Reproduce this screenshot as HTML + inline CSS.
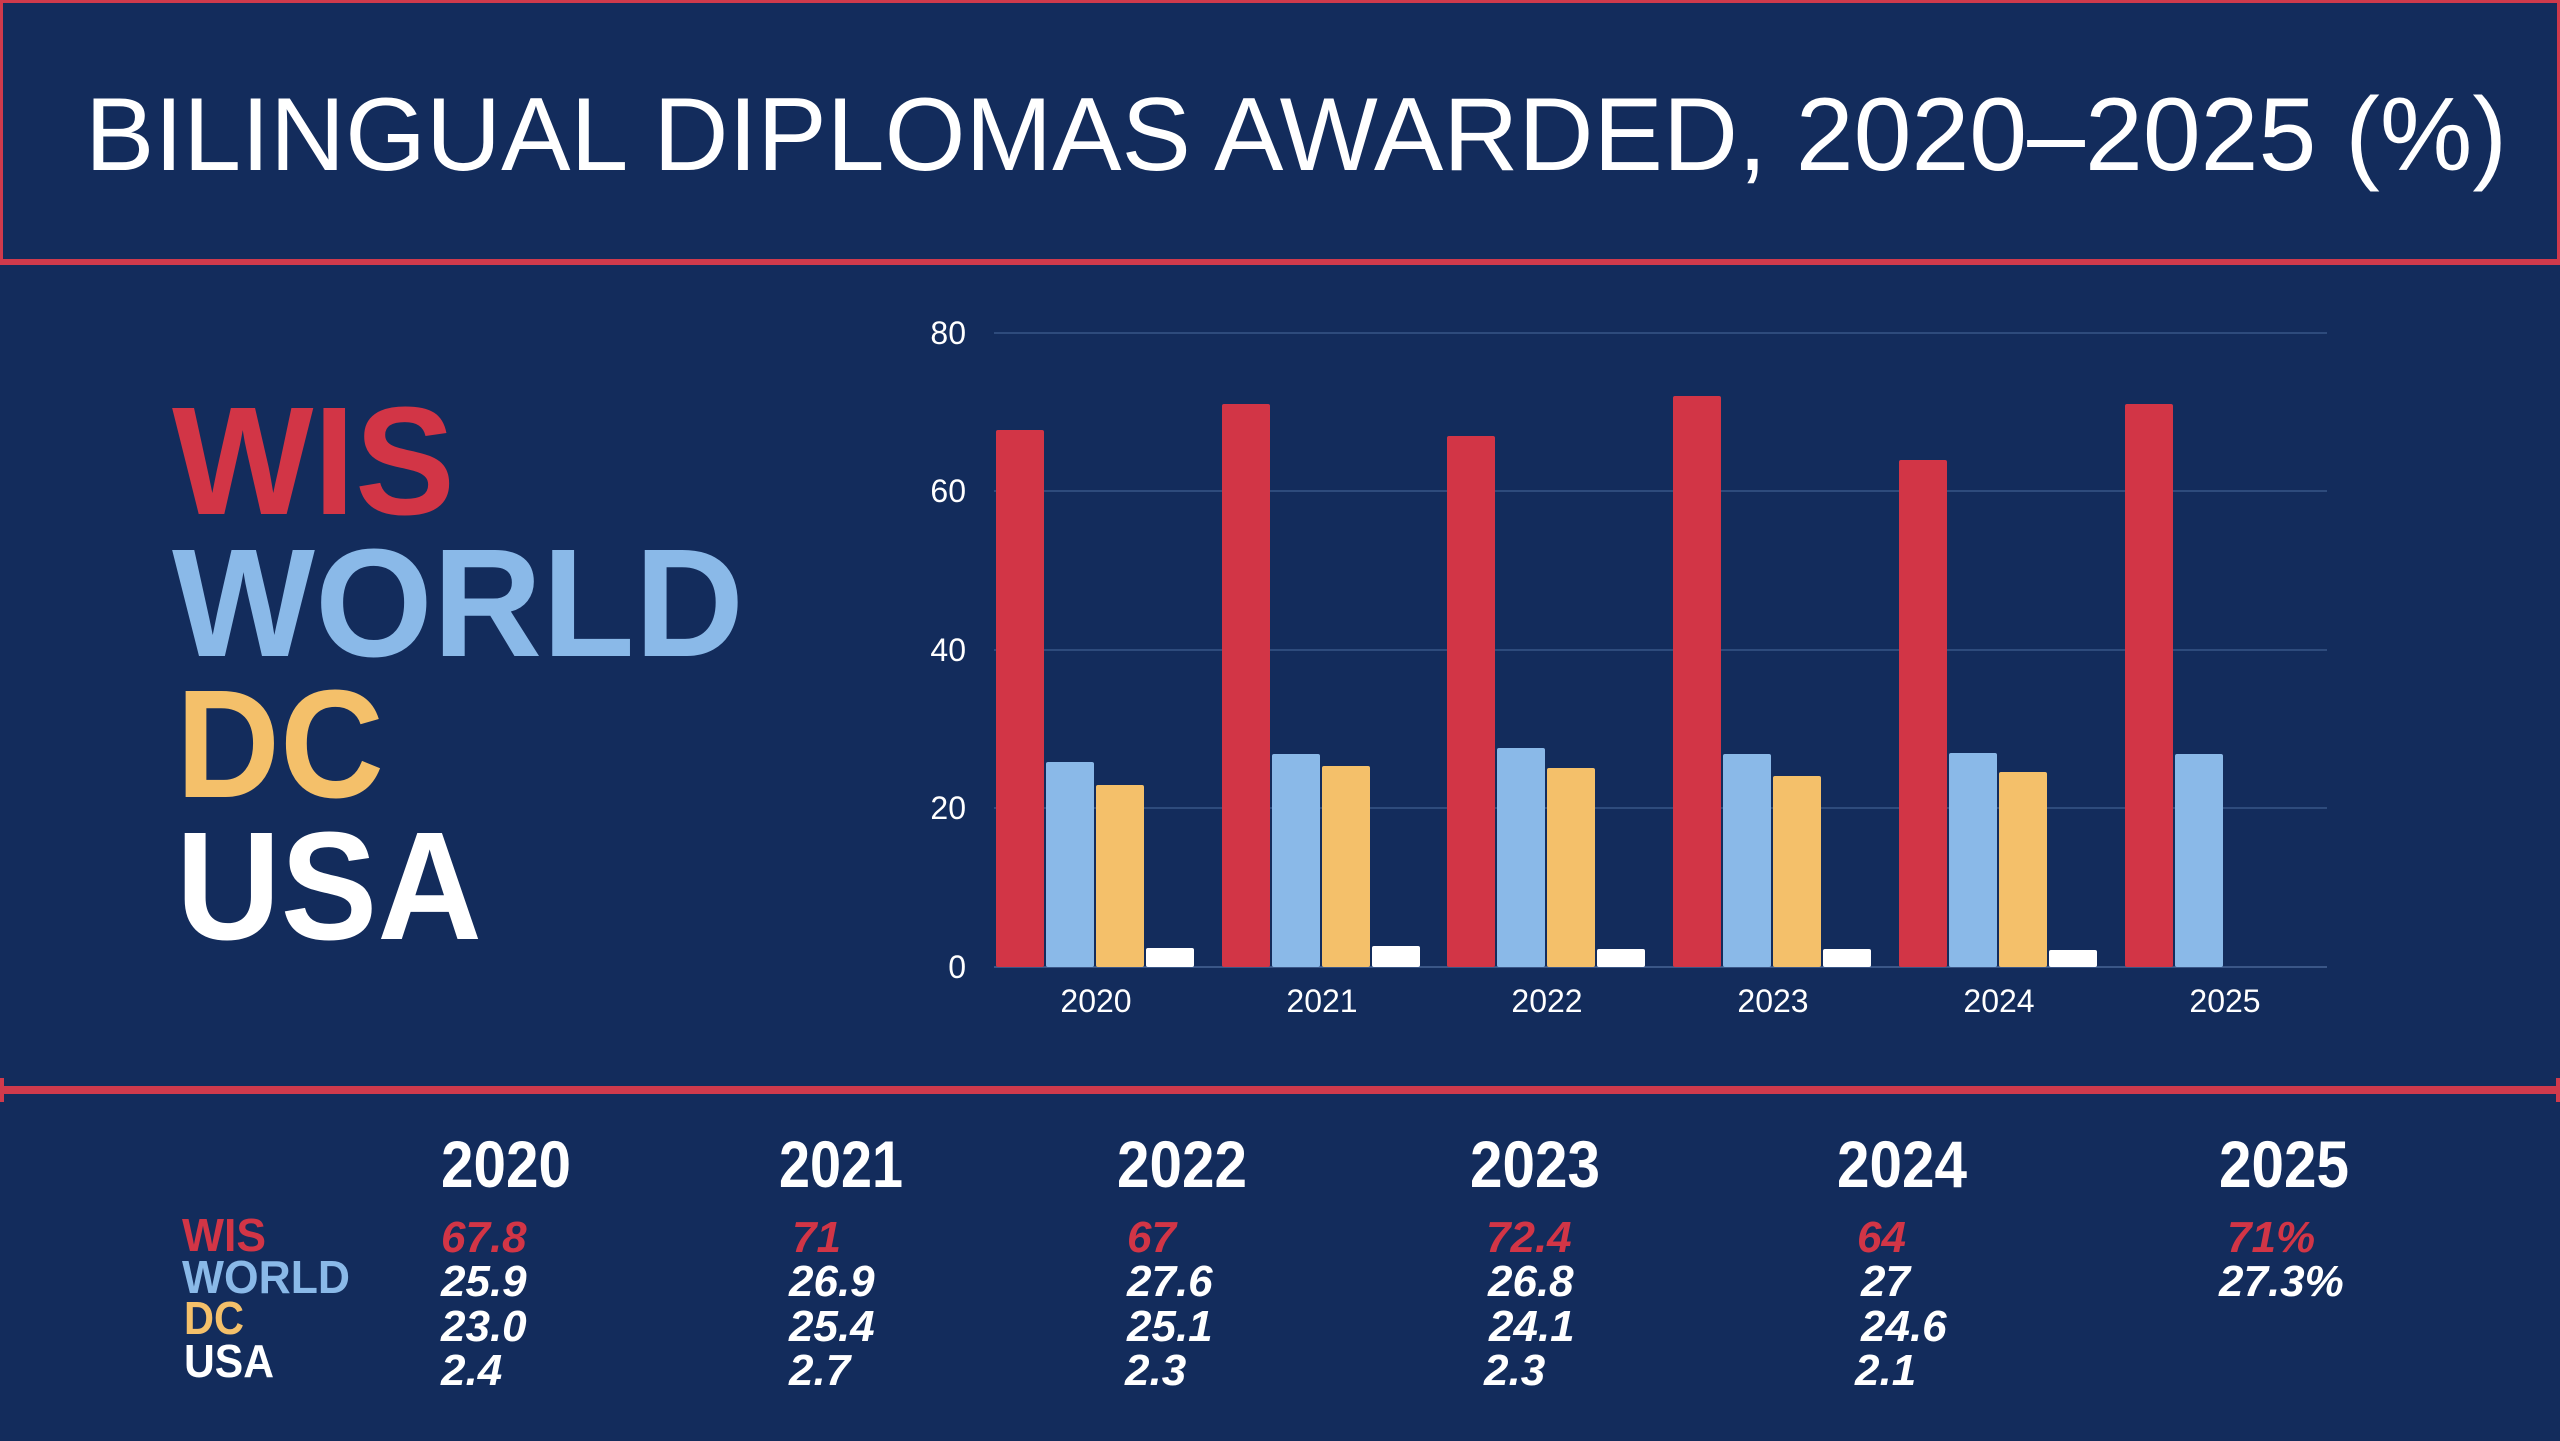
<!DOCTYPE html>
<html><head><meta charset="utf-8"><style>
html,body{margin:0;padding:0;background:#132c5c;}
svg{display:block;}
text{font-family:"Liberation Sans",sans-serif;}
</style></head><body>
<svg width="2560" height="1441" viewBox="0 0 2560 1441" xmlns="http://www.w3.org/2000/svg">
<rect width="2560" height="1441" fill="#132c5c"/>
<!-- title box -->
<rect x="1.5" y="1.5" width="2557" height="262" fill="none" stroke="#cf3a4c" stroke-width="3"/>
<rect x="0" y="259" width="2560" height="6" fill="#cf3a4c"/>
<text x="85" y="170" font-size="104" fill="#fff" textLength="2422" lengthAdjust="spacingAndGlyphs">BILINGUAL DIPLOMAS AWARDED, 2020–2025 (%)</text>

<!-- big legend -->
<g font-weight="bold" font-size="154">
<text x="172" y="514" fill="#d23546" textLength="283" lengthAdjust="spacingAndGlyphs">WIS</text>
<text x="172" y="656" fill="#8ab9e8" textLength="572" lengthAdjust="spacingAndGlyphs">WORLD</text>
<text x="176" y="797" fill="#f4c06a" textLength="208" lengthAdjust="spacingAndGlyphs">DC</text>
<text x="176" y="939" fill="#ffffff" textLength="306" lengthAdjust="spacingAndGlyphs">USA</text>
</g>

<!-- grid -->
<g stroke="#2e4b7c" stroke-width="2">
<line x1="994" y1="333" x2="2327" y2="333"/>
<line x1="994" y1="491" x2="2327" y2="491"/>
<line x1="994" y1="650" x2="2327" y2="650"/>
<line x1="994" y1="808" x2="2327" y2="808"/>
</g>
<line x1="994" y1="967" x2="2327" y2="967" stroke="#3a5687" stroke-width="2"/>
<g fill="#fff" font-size="32" text-anchor="end">
<text x="966" y="344">80</text>
<text x="966" y="502">60</text>
<text x="966" y="661">40</text>
<text x="966" y="819">20</text>
<text x="966" y="978">0</text>
</g>

<!-- bars: scale 7.925 px/unit, base 967 -->
<g>
<!-- 2020 -->
<rect x="996" y="430" width="48" height="537" fill="#d23546" rx="2"/>
<rect x="1046" y="762" width="48" height="205" fill="#8ab9e8" rx="2"/>
<rect x="1096" y="785" width="48" height="182" fill="#f4c06a" rx="2"/>
<rect x="1146" y="948" width="48" height="19" fill="#fff" rx="2"/>
<!-- 2021 -->
<rect x="1222" y="404" width="48" height="563" fill="#d23546" rx="2"/>
<rect x="1272" y="754" width="48" height="213" fill="#8ab9e8" rx="2"/>
<rect x="1322" y="766" width="48" height="201" fill="#f4c06a" rx="2"/>
<rect x="1372" y="946" width="48" height="21" fill="#fff" rx="2"/>
<!-- 2022 -->
<rect x="1447" y="436" width="48" height="531" fill="#d23546" rx="2"/>
<rect x="1497" y="748" width="48" height="219" fill="#8ab9e8" rx="2"/>
<rect x="1547" y="768" width="48" height="199" fill="#f4c06a" rx="2"/>
<rect x="1597" y="949" width="48" height="18" fill="#fff" rx="2"/>
<!-- 2023 -->
<rect x="1673" y="396" width="48" height="571" fill="#d23546" rx="2"/>
<rect x="1723" y="754" width="48" height="213" fill="#8ab9e8" rx="2"/>
<rect x="1773" y="776" width="48" height="191" fill="#f4c06a" rx="2"/>
<rect x="1823" y="949" width="48" height="18" fill="#fff" rx="2"/>
<!-- 2024 -->
<rect x="1899" y="460" width="48" height="507" fill="#d23546" rx="2"/>
<rect x="1949" y="753" width="48" height="214" fill="#8ab9e8" rx="2"/>
<rect x="1999" y="772" width="48" height="195" fill="#f4c06a" rx="2"/>
<rect x="2049" y="950" width="48" height="17" fill="#fff" rx="2"/>
<!-- 2025 -->
<rect x="2125" y="404" width="48" height="563" fill="#d23546" rx="2"/>
<rect x="2175" y="754" width="48" height="213" fill="#8ab9e8" rx="2"/>
</g>
<g fill="#fff" font-size="32" text-anchor="middle">
<text x="1096" y="1012">2020</text>
<text x="1322" y="1012">2021</text>
<text x="1547" y="1012">2022</text>
<text x="1773" y="1012">2023</text>
<text x="1999" y="1012">2024</text>
<text x="2225" y="1012">2025</text>
</g>

<!-- divider -->
<rect x="0" y="1086" width="2560" height="8" fill="#cf3a4c"/>
<rect x="0" y="1078" width="4" height="24" fill="#cf3a4c"/>
<rect x="2556" y="1078" width="4" height="24" fill="#cf3a4c"/>

<!-- table headers -->
<g fill="#fff" font-weight="bold" font-size="66">
<text x="441" y="1187" textLength="130" lengthAdjust="spacingAndGlyphs">2020</text>
<text x="779" y="1187" textLength="124" lengthAdjust="spacingAndGlyphs">2021</text>
<text x="1117" y="1187" textLength="130" lengthAdjust="spacingAndGlyphs">2022</text>
<text x="1470" y="1187" textLength="130" lengthAdjust="spacingAndGlyphs">2023</text>
<text x="1837" y="1187" textLength="130" lengthAdjust="spacingAndGlyphs">2024</text>
<text x="2219" y="1187" textLength="130" lengthAdjust="spacingAndGlyphs">2025</text>
</g>
<!-- row labels -->
<g font-weight="bold" font-size="46">
<text x="182" y="1251" fill="#d23546" textLength="84" lengthAdjust="spacingAndGlyphs">WIS</text>
<text x="182" y="1293" fill="#8ab9e8" textLength="168" lengthAdjust="spacingAndGlyphs">WORLD</text>
<text x="184" y="1334" fill="#f4c06a" textLength="60" lengthAdjust="spacingAndGlyphs">DC</text>
<text x="184" y="1377" fill="#fff" textLength="90" lengthAdjust="spacingAndGlyphs">USA</text>
</g>
<!-- values -->
<g font-weight="bold" font-style="italic" font-size="44">
<g fill="#d23546">
<text x="441" y="1252">67.8</text>
<text x="792" y="1252">71</text>
<text x="1127" y="1252">67</text>
<text x="1486" y="1252">72.4</text>
<text x="1857" y="1252">64</text>
<text x="2227" y="1252">71%</text>
</g>
<g fill="#fff">
<text x="441" y="1296">25.9</text>
<text x="789" y="1296">26.9</text>
<text x="1127" y="1296">27.6</text>
<text x="1488" y="1296">26.8</text>
<text x="1861" y="1296">27</text>
<text x="2219" y="1296">27.3%</text>
<text x="441" y="1341">23.0</text>
<text x="789" y="1341">25.4</text>
<text x="1127" y="1341">25.1</text>
<text x="1489" y="1341">24.1</text>
<text x="1861" y="1341">24.6</text>
<text x="441" y="1385">2.4</text>
<text x="789" y="1385">2.7</text>
<text x="1125" y="1385">2.3</text>
<text x="1484" y="1385">2.3</text>
<text x="1855" y="1385">2.1</text>
</g>
</g>
</svg>
</body></html>
